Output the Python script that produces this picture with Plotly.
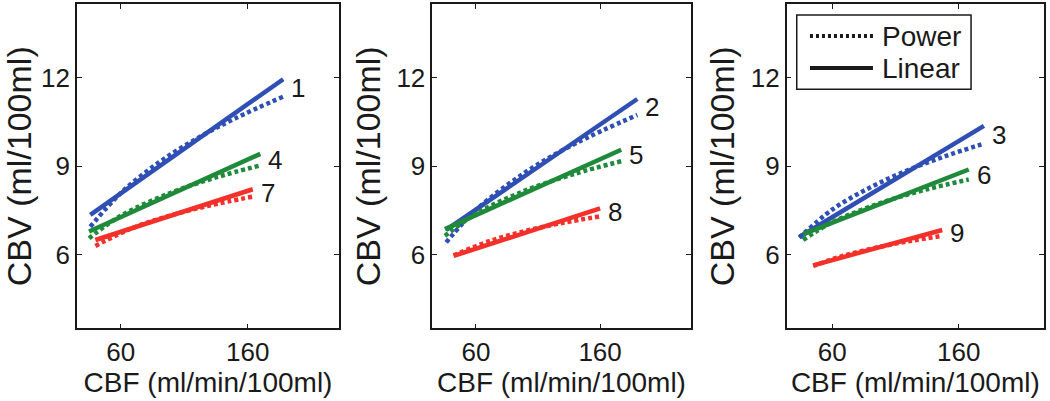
import plotly.graph_objects as go

# ---------------- data ----------------
x_tick_vals = [60, 160]
y_tick_vals = [6, 9, 12]
x_title = "CBF (ml/min/100ml)"
y_title = "CBV (ml/100ml)"
legend_labels = ["Power", "Linear"]

# Panel 1 curves: 1 (blue), 4 (green), 7 (red)
c1_lin_x = [36, 188]
c1_lin_y = [7.35, 11.95]
c1_pow_x = [36, 60, 90, 120, 150, 188]
c1_pow_y = [6.95, 8.09, 9.13, 9.94, 10.62, 11.36]

c4_lin_x = [35, 170]
c4_lin_y = [6.79, 9.42]
c4_pow_x = [35, 60, 100, 135, 170]
c4_pow_y = [6.56, 7.32, 8.11, 8.62, 9.03]

c7_lin_x = [40, 164]
c7_lin_y = [6.50, 8.22]
c7_pow_x = [40, 70, 100, 130, 164]
c7_pow_y = [6.30, 6.92, 7.34, 7.67, 7.97]

# Panel 2 curves: 2 (blue), 5 (green), 8 (red)
c2_lin_x = [36, 190]
c2_lin_y = [6.84, 11.28]
c2_pow_x = [36, 60, 100, 140, 190]
c2_pow_y = [6.42, 7.52, 8.80, 9.77, 10.74]

c5_lin_x = [35, 177]
c5_lin_y = [6.87, 9.56]
c5_pow_x = [35, 60, 100, 140, 177]
c5_pow_y = [6.64, 7.39, 8.18, 8.75, 9.17]

c8_lin_x = [42, 160]
c8_lin_y = [5.96, 7.57]
c8_pow_x = [42, 70, 100, 130, 160]
c8_pow_y = [5.98, 6.45, 6.81, 7.08, 7.30]

# Panel 3 curves: 3 (blue), 6 (green), 9 (red)
c3_lin_x = [34, 180]
c3_lin_y = [6.60, 10.37]
c3_pow_x = [34, 60, 90, 120, 150, 178]
c3_pow_y = [6.58, 7.53, 8.28, 8.87, 9.35, 9.74]

c6_lin_x = [37, 168]
c6_lin_y = [6.70, 8.89]
c6_pow_x = [37, 60, 100, 135, 168]
c6_pow_y = [6.50, 7.10, 7.78, 8.22, 8.55]

c9_lin_x = [45, 147]
c9_lin_y = [5.64, 6.84]
c9_pow_x = [45, 70, 100, 125, 147]
c9_pow_y = [5.62, 5.98, 6.29, 6.49, 6.64]

# ---------------- styling ----------------
BLUE = "#2f4fb5"
GREEN = "#1f8a3a"
RED = "#f3302a"
FONT = "Liberation Sans, Arial, Helvetica, sans-serif"
INK = "#1a1a1a"

panels = [
    [("1", BLUE, c1_lin_x, c1_lin_y, c1_pow_x, c1_pow_y),
     ("4", GREEN, c4_lin_x, c4_lin_y, c4_pow_x, c4_pow_y),
     ("7", RED, c7_lin_x, c7_lin_y, c7_pow_x, c7_pow_y)],
    [("2", BLUE, c2_lin_x, c2_lin_y, c2_pow_x, c2_pow_y),
     ("5", GREEN, c5_lin_x, c5_lin_y, c5_pow_x, c5_pow_y),
     ("8", RED, c8_lin_x, c8_lin_y, c8_pow_x, c8_pow_y)],
    [("3", BLUE, c3_lin_x, c3_lin_y, c3_pow_x, c3_pow_y),
     ("6", GREEN, c6_lin_x, c6_lin_y, c6_pow_x, c6_pow_y),
     ("9", RED, c9_lin_x, c9_lin_y, c9_pow_x, c9_pow_y)],
]

x_domains = [[0.0733, 0.3229], [0.4117, 0.6578], [0.7492, 0.9943]]
y_domain = [0.1808, 0.9900]
x_ranges = [[25.5, 232], [24.8, 233], [24, 227.5]]
y_range = [3.5, 14.5]

fig = go.Figure()

for i, curves in enumerate(panels):
    sfx = "" if i == 0 else str(i + 1)
    xa, ya = "x" + sfx, "y" + sfx
    for num, color, lx, ly, px, py in curves:
        fig.add_trace(go.Scatter(
            x=lx, y=ly, mode="lines", xaxis=xa, yaxis=ya, showlegend=False,
            line=dict(color=color, width=4.5), hoverinfo="skip"))
        fig.add_trace(go.Scatter(
            x=px, y=py, mode="lines", xaxis=xa, yaxis=ya, showlegend=False,
            line=dict(color=color, width=4.5, dash="4px,3px", shape="spline"),
            hoverinfo="skip"))
        fig.add_annotation(
            x=lx[-1], y=(ly[-1] + py[-1]) / 2, xref=xa, yref=ya,
            text=num, showarrow=False, xanchor="left", yanchor="middle",
            xshift=6, font=dict(family=FONT, size=26, color=INK))

    axis_common = dict(
        showline=True, linecolor=INK, linewidth=1.5, mirror="ticks",
        ticks="inside", ticklen=5, tickwidth=1, tickcolor=INK,
        showgrid=False, zeroline=False, automargin=False,
        tickfont=dict(family=FONT, size=26, color=INK),
    )
    fig.update_layout(**{
        "xaxis" + sfx: dict(
            axis_common, domain=x_domains[i], range=x_ranges[i],
            tickvals=x_tick_vals, anchor=ya,
            title=dict(text=x_title, standoff=3,
                       font=dict(family=FONT, size=28, color=INK))),
        "yaxis" + sfx: dict(
            axis_common, domain=y_domain, range=y_range,
            tickvals=y_tick_vals, anchor=xa,
            title=dict(text=y_title, standoff=6,
                       font=dict(family=FONT, size=34, color=INK))),
    })

# ---------------- legend (drawn in panel 3) ----------------
leg_x0, leg_x1, leg_y0, leg_y1 = 0.7588, 0.9248, 0.7773, 0.9626
sample_x0, sample_x1, text_x = 0.7714, 0.8314, 0.8381
row_y = [0.9102, 0.8304]
fig.add_shape(type="rect", xref="paper", yref="paper",
              x0=leg_x0, x1=leg_x1, y0=leg_y0, y1=leg_y1,
              line=dict(color=INK, width=1.5), fillcolor="white")
fig.add_shape(type="line", xref="paper", yref="paper",
              x0=sample_x0, x1=sample_x1, y0=row_y[0], y1=row_y[0],
              line=dict(color=INK, width=4, dash="3px,3px"))
fig.add_shape(type="line", xref="paper", yref="paper",
              x0=sample_x0, x1=sample_x1, y0=row_y[1], y1=row_y[1],
              line=dict(color=INK, width=4))
for lab, yy in zip(legend_labels, row_y):
    fig.add_annotation(x=text_x, y=yy, xref="paper", yref="paper",
                       text=lab, showarrow=False, xanchor="left",
                       yanchor="middle",
                       font=dict(family=FONT, size=28, color=INK))

fig.update_layout(
    width=1050, height=401,
    margin=dict(l=0, r=0, t=0, b=0),
    paper_bgcolor="white", plot_bgcolor="white",
    showlegend=False,
)

fig.write_html(
    "out.html",
    config={"displayModeBar": False},
    post_script="document.body.style.margin='0px';"
                "document.body.style.overflow='hidden';",
)
